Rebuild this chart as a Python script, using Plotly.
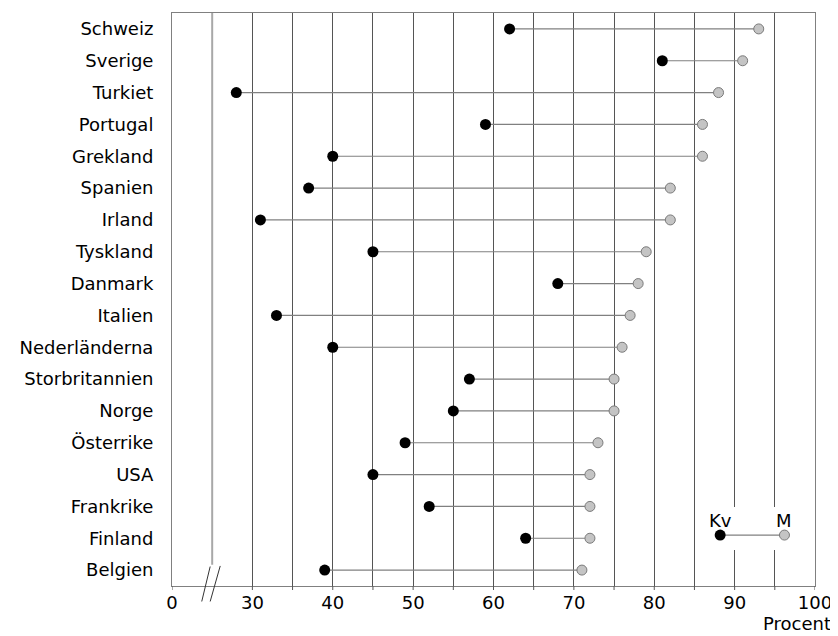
import plotly.graph_objects as go

countries = ["Schweiz", "Sverige", "Turkiet", "Portugal", "Grekland", "Spanien",
             "Irland", "Tyskland", "Danmark", "Italien", "Nederländerna",
             "Storbritannien", "Norge", "Österrike", "USA", "Frankrike",
             "Finland", "Belgien"]
kv = [62, 81, 28, 59, 40, 37, 31, 45, 68, 33, 40, 57, 55, 49, 45, 52, 64, 39]
m = [93, 91, 88, 86, 86, 82, 82, 79, 78, 77, 76, 75, 75, 73, 72, 72, 72, 71]

# axis: broken at the start, the "0" tick stands at position 20
tick_vals = [20, 30, 35, 40, 45, 50, 55, 60, 65, 70, 75, 80, 85, 90, 95, 100]
tick_text = ["0", "30", "", "40", "", "50", "", "60", "", "70", "", "80", "", "90", "", "100"]

legend_labels = ["Kv", "M"]
legend_vals = [88.2, 96.2]
legend_row = 15.9

FONT = "DejaVu Sans"
FS = 18
rows = list(range(len(countries)))
PLOT_H = 573  # px height of plot area

fig = go.Figure()

# connecting lines
lx, ly = [], []
for i in rows:
    lx += [kv[i], m[i], None]
    ly += [i, i, None]
fig.add_trace(go.Scatter(x=lx, y=ly, mode="lines",
                         line=dict(color="#808080", width=1.2),
                         hoverinfo="skip", showlegend=False))
fig.add_trace(go.Scatter(x=m, y=rows, mode="markers", name="M",
                         marker=dict(symbol="circle", size=10, color="#c4c4c4",
                                     line=dict(color="#7a7a7a", width=1)),
                         showlegend=False))
fig.add_trace(go.Scatter(x=kv, y=rows, mode="markers", name="Kv",
                         marker=dict(symbol="circle", size=11, color="black",
                                     line=dict(width=0)),
                         showlegend=False))

# legend (drawn in the plot)
fig.add_trace(go.Scatter(x=legend_vals, y=[legend_row, legend_row], mode="lines",
                         line=dict(color="#808080", width=1.2),
                         hoverinfo="skip", showlegend=False))
fig.add_trace(go.Scatter(x=[legend_vals[1]], y=[legend_row], mode="markers",
                         marker=dict(symbol="circle", size=10, color="#c4c4c4",
                                     line=dict(color="#7a7a7a", width=1)),
                         hoverinfo="skip", showlegend=False))
fig.add_trace(go.Scatter(x=[legend_vals[0]], y=[legend_row], mode="markers",
                         marker=dict(symbol="circle", size=11, color="black"),
                         hoverinfo="skip", showlegend=False))
for lab, xv in zip(legend_labels, legend_vals):
    fig.add_annotation(x=xv, y=legend_row, text=lab, showarrow=False,
                       yshift=15, yanchor="middle", xanchor="center",
                       font=dict(family=FONT, size=FS, color="black"))

shapes = [
    # white box behind legend, covering gridlines
    dict(type="rect", xref="x", yref="y", x0=87, x1=99, y0=15.02, y1=16.37,
         fillcolor="white", line=dict(width=0), layer="between"),
    # break line
    dict(type="line", xref="x", yref="paper", x0=25, x1=25, y0=0.037, y1=1,
         line=dict(color="#a8a8a8", width=2), layer="above"),
    # break marks
    dict(type="line", xref="x", yref="paper", x0=23.7, x1=24.75, y0=-0.027, y1=0.034,
         line=dict(color="#333333", width=1)),
    dict(type="line", xref="x", yref="paper", x0=24.75, x1=26.0, y0=-0.027, y1=0.035,
         line=dict(color="#333333", width=1)),
]
# outside tick marks at every tick value
for tv in tick_vals:
    shapes.append(dict(type="line", xref="x", yref="paper", x0=tv, x1=tv,
                       y0=0, y1=-4 / PLOT_H, line=dict(color="#555555", width=1)))

fig.add_annotation(xref="paper", yref="paper", x=1.028, y=-50 / PLOT_H, text="Procent",
                   showarrow=False, xanchor="right", yanchor="bottom",
                   font=dict(family=FONT, size=FS, color="black"))

fig.update_layout(
    width=830, height=628,
    margin=dict(l=164, r=23, t=5, b=50, pad=0),
    paper_bgcolor="white", plot_bgcolor="white",
    shapes=shapes,
    font=dict(family=FONT, size=FS, color="black"),
    xaxis=dict(range=[20, 100], tickvals=tick_vals, ticktext=tick_text,
               showgrid=True, gridcolor="#555555", gridwidth=1,
               ticks="",
               showline=True, linecolor="#808080", linewidth=1, mirror=True,
               zeroline=False, tickfont=dict(family=FONT, size=FS, color="black")),
    yaxis=dict(range=[17.5, -0.5], tickvals=rows, ticktext=countries,
               showgrid=False, zeroline=False, ticks="",
               ticklabelstandoff=14,
               showline=True, linecolor="#808080", linewidth=1, mirror=True,
               tickfont=dict(family=FONT, size=FS, color="black")),
)

fig.write_html("out.html")
